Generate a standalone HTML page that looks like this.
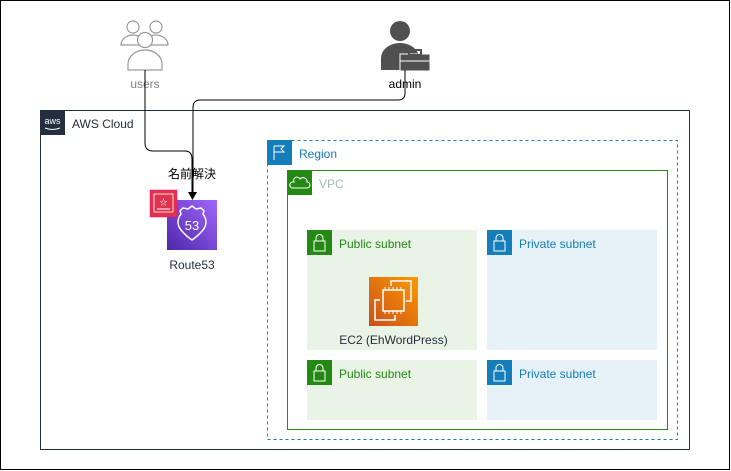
<!DOCTYPE html>
<html><head><meta charset="utf-8"><style>
html,body{margin:0;padding:0;background:#fff;}
svg{display:block;font-family:"Liberation Sans","Noto Sans CJK JP",sans-serif;}
</style></head><body>
<svg width="731" height="471" viewBox="0 0 731 471" xmlns="http://www.w3.org/2000/svg">
<rect x="0.5" y="0.5" width="729" height="469" fill="#fff" stroke="#000" stroke-width="1"/>
<rect x="40.5" y="110.5" width="649" height="339" fill="#fff" stroke="#232F3E" stroke-width="1"/>
<rect x="40" y="110" width="25" height="25" fill="#232F3E"/>
<text x="52.5" y="124" font-size="9" fill="#fff" text-anchor="middle">aws</text>
<path d="M45 128 q7.5 3 15 0" stroke="#fff" fill="none" stroke-width="1"/>
<text x="72" y="128" font-size="12" fill="#232F3E">AWS Cloud</text>
<rect x="267.5" y="140.5" width="410" height="299" fill="#fff" stroke="#147EBA" stroke-width="1" stroke-dasharray="3,3"/>
<rect x="267" y="140" width="25" height="25" fill="#147EBA"/>
<path d="M274 160V146M274 146h10l-3 3 3 3h-10" stroke="#fff" fill="none" stroke-width="1"/>
<text x="299" y="158" font-size="12" fill="#147EBA">Region</text>
<rect x="287.5" y="170.5" width="380" height="259" fill="#fff" stroke="#248814" stroke-width="1"/>
<rect x="287" y="170" width="25" height="25" fill="#248814"/>
<path d="M292 188h15a3 3 0 0 0 0-6a4 4 0 0 0-7-3a3 3 0 0 0-6 3a3 3 0 0 0-2 6z" stroke="#fff" fill="none" stroke-width="1"/>
<text x="319" y="188" font-size="12" fill="#AAB7B8">VPC</text>
<g>
<rect x="307" y="230" width="170" height="120" fill="#E9F3E6"/>
<rect x="307" y="230" width="25" height="25" fill="#248814"/>
<rect x="314" y="241" width="11" height="10" fill="none" stroke="#fff"/><path d="M316 241v-3a3.5 3.5 0 0 1 7 0v3" stroke="#fff" fill="none"/>
<text x="339" y="248" font-size="12" fill="#248814">Public subnet</text>
<rect x="487" y="230" width="170" height="120" fill="#E6F2F8"/>
<rect x="487" y="230" width="25" height="25" fill="#147EBA"/>
<rect x="494" y="241" width="11" height="10" fill="none" stroke="#fff"/><path d="M496 241v-3a3.5 3.5 0 0 1 7 0v3" stroke="#fff" fill="none"/>
<text x="519" y="248" font-size="12" fill="#147EBA">Private subnet</text>
<rect x="307" y="360" width="170" height="60" fill="#E9F3E6"/>
<rect x="307" y="360" width="25" height="25" fill="#248814"/>
<rect x="314" y="371" width="11" height="10" fill="none" stroke="#fff"/><path d="M316 371v-3a3.5 3.5 0 0 1 7 0v3" stroke="#fff" fill="none"/>
<text x="339" y="378" font-size="12" fill="#248814">Public subnet</text>
<rect x="487" y="360" width="170" height="60" fill="#E6F2F8"/>
<rect x="487" y="360" width="25" height="25" fill="#147EBA"/>
<rect x="494" y="371" width="11" height="10" fill="none" stroke="#fff"/><path d="M496 371v-3a3.5 3.5 0 0 1 7 0v3" stroke="#fff" fill="none"/>
<text x="519" y="378" font-size="12" fill="#147EBA">Private subnet</text>
</g>
<defs>
<linearGradient id="og" x1="0" y1="1" x2="1" y2="0"><stop offset="0" stop-color="#C8511B"/><stop offset="1" stop-color="#FF9900"/></linearGradient>
<linearGradient id="pg" x1="0" y1="1" x2="1" y2="0"><stop offset="0" stop-color="#4D27A8"/><stop offset="1" stop-color="#A166FF"/></linearGradient>
</defs>
<rect x="369" y="277" width="49" height="49" fill="url(#og)"/>
<rect x="383" y="290" width="21" height="21" fill="none" stroke="#fff" stroke-width="1.5"/>
<path d="M385 290v-3M389 290v-3M393 290v-3M397 290v-3M401 290v-3M385 311v3M389 311v3M393 311v3M397 311v3M401 311v3" stroke="#fff"/>
<path d="M380 300h-5v20h20v-5M391 286v-5h20v20h-5" stroke="#fff" fill="none" stroke-width="1.5"/>
<text x="393.5" y="344" font-size="12" fill="#232F3E" text-anchor="middle">EC2 (EhWordPress)</text>
<rect x="167" y="200" width="50" height="50" fill="url(#pg)"/>
<path d="M192 206l4 3 5-1 3 3-1 3c4 5 4 11 0 16q-5 6-11 10q-6-4-11-10c-4-5-4-11 0-16l-1-3 3-3 5 1z" fill="none" stroke="#fff" stroke-width="1.5"/>
<text x="192" y="230" font-size="13" fill="#fff" text-anchor="middle">53</text>
<rect x="150" y="190" width="27" height="27" fill="#DD344C" stroke="#f08" stroke-width="0.5"/>
<rect x="154" y="194" width="19" height="18" fill="none" stroke="#fff" stroke-width="0.8"/>
<text x="163.5" y="205" font-size="8" fill="#fff" text-anchor="middle">☆</text>
<path d="M157 209h13" stroke="#fff"/>
<text x="192" y="269" font-size="12" fill="#232F3E" text-anchor="middle">Route53</text>
<g fill="#fff" stroke="#999" stroke-width="1.2">
<circle cx="133" cy="27" r="6"/><path d="M121 45a12 10 0 0 1 24 0z"/>
<circle cx="156" cy="27" r="6"/><path d="M144 45a12 10 0 0 1 24 0z"/>
<circle cx="145" cy="40" r="7.5"/><path d="M128 70v-6a17 14 0 0 1 34 0v6z"/>
</g>
<text x="145" y="88" font-size="12" fill="#808080" text-anchor="middle">users</text>
<circle cx="400" cy="31" r="10" fill="#505050"/>
<path d="M381 70v-12a19 15 0 0 1 38 0v12z" fill="#505050"/>
<rect x="400" y="54" width="30" height="17" fill="#505050" stroke="#fff" stroke-width="1"/>
<rect x="409" y="50" width="12" height="5" fill="none" stroke="#505050" stroke-width="2"/>
<path d="M400 61h30" stroke="#fff"/>
<text x="405" y="88" font-size="12" fill="#000" text-anchor="middle">admin</text>
<path d="M145 70V143q0 8 8 8H185q7 0 7 8V193" fill="none" stroke="#000" stroke-width="1"/>
<path d="M405 70V93q0 7-7 7H200q-7 0-7 8V193" fill="none" stroke="#000" stroke-width="1"/>
<path d="M188 192l4.5 8 4.5-8z" fill="#000"/>
<text x="192" y="178" font-size="12" fill="#000" text-anchor="middle">名前解決</text>
</svg>
</body></html>
